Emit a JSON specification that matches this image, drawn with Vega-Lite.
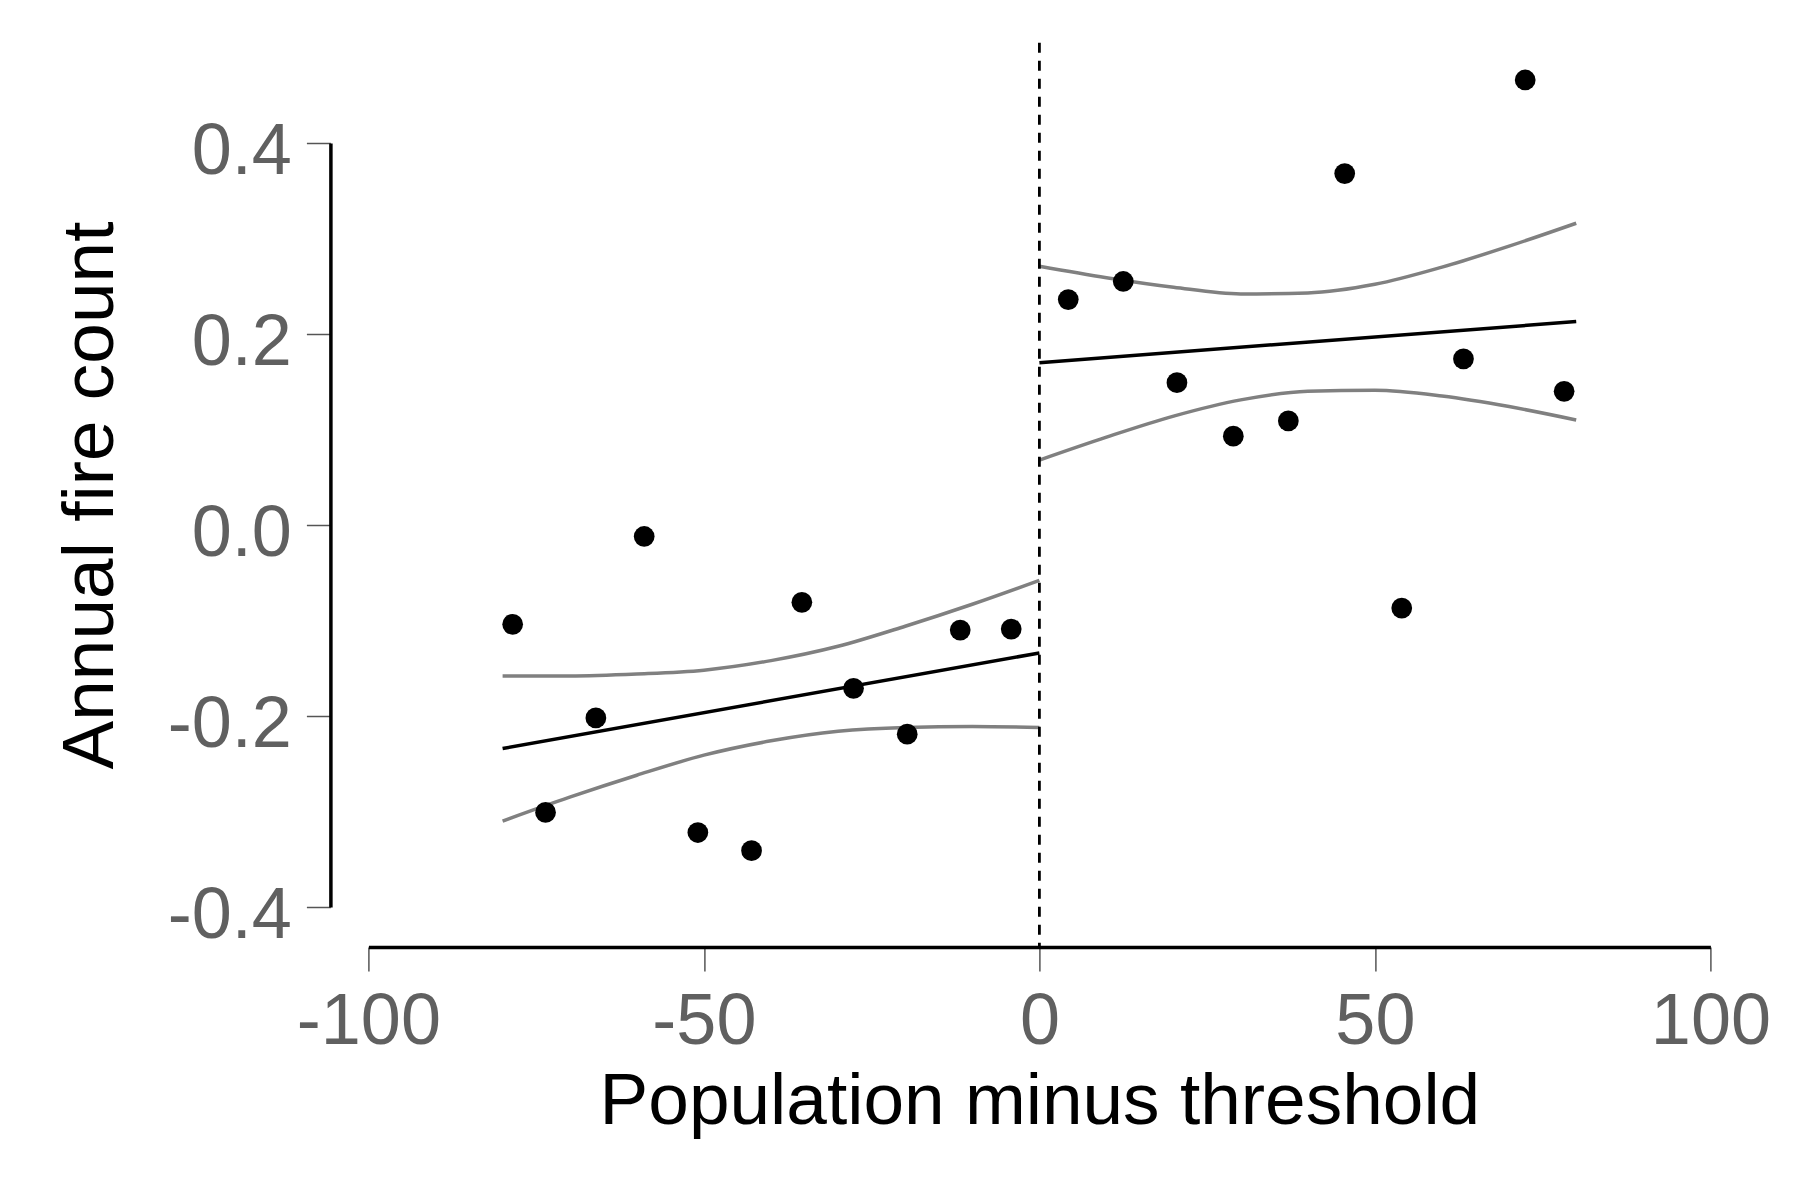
{
  "$schema": "https://vega.github.io/schema/vega-lite/v6.json",
  "width": 1342,
  "height": 764,
  "autosize": {"type": "none"},
  "padding": {"left": 368.4, "top": 143, "right": 83.6, "bottom": 289},
  "background": "white",
  "config": {
    "view": {"stroke": null},
    "font": "Liberation Sans"
  },
  "datasets": {
    "points": [
      {"x": -78.5, "y": -0.104}, {"x": -73.6, "y": -0.301}, {"x": -66.1, "y": -0.202},
      {"x": -58.9, "y": -0.012}, {"x": -50.9, "y": -0.322}, {"x": -42.9, "y": -0.341},
      {"x": -35.4, "y": -0.081}, {"x": -27.7, "y": -0.171}, {"x": -19.7, "y": -0.219},
      {"x": -11.8, "y": -0.110}, {"x": -4.2, "y": -0.109},
      {"x": 4.3, "y": 0.236}, {"x": 12.5, "y": 0.255}, {"x": 20.5, "y": 0.149},
      {"x": 28.9, "y": 0.093}, {"x": 37.1, "y": 0.109}, {"x": 45.5, "y": 0.368},
      {"x": 54.0, "y": -0.087}, {"x": 63.2, "y": 0.174}, {"x": 72.4, "y": 0.466},
      {"x": 78.2, "y": 0.140}
    ],
    "fit": [
      {"g": "L", "x": -80, "y": -0.234}, {"g": "L", "x": 0, "y": -0.134},
      {"g": "R", "x": 0, "y": 0.170}, {"g": "R", "x": 80, "y": 0.213}
    ],
    "band": [
      {"g": "Llo", "x": -80, "y": -0.310}, {"g": "Llo", "x": -70, "y": -0.285}, {"g": "Llo", "x": -60, "y": -0.262},
      {"g": "Llo", "x": -50, "y": -0.241}, {"g": "Llo", "x": -40, "y": -0.226}, {"g": "Llo", "x": -30, "y": -0.216},
      {"g": "Llo", "x": -20, "y": -0.212}, {"g": "Llo", "x": -10, "y": -0.211}, {"g": "Llo", "x": 0, "y": -0.212},
      {"g": "Lhi", "x": -80, "y": -0.158}, {"g": "Lhi", "x": -70, "y": -0.158}, {"g": "Lhi", "x": -60, "y": -0.156},
      {"g": "Lhi", "x": -50, "y": -0.152}, {"g": "Lhi", "x": -40, "y": -0.142}, {"g": "Lhi", "x": -30, "y": -0.127},
      {"g": "Lhi", "x": -20, "y": -0.106}, {"g": "Lhi", "x": -10, "y": -0.083}, {"g": "Lhi", "x": 0, "y": -0.058},
      {"g": "Rlo", "x": 0, "y": 0.068}, {"g": "Rlo", "x": 10, "y": 0.092}, {"g": "Rlo", "x": 20, "y": 0.114},
      {"g": "Rlo", "x": 30, "y": 0.131}, {"g": "Rlo", "x": 40, "y": 0.140}, {"g": "Rlo", "x": 50, "y": 0.141},
      {"g": "Rlo", "x": 60, "y": 0.135}, {"g": "Rlo", "x": 70, "y": 0.124}, {"g": "Rlo", "x": 80, "y": 0.110},
      {"g": "Rhi", "x": 0, "y": 0.271}, {"g": "Rhi", "x": 10, "y": 0.259}, {"g": "Rhi", "x": 20, "y": 0.249},
      {"g": "Rhi", "x": 30, "y": 0.242}, {"g": "Rhi", "x": 40, "y": 0.243}, {"g": "Rhi", "x": 50, "y": 0.252},
      {"g": "Rhi", "x": 60, "y": 0.270}, {"g": "Rhi", "x": 70, "y": 0.292}, {"g": "Rhi", "x": 80, "y": 0.316}
    ],
    "vline": [{"x": 0, "y": 0.505, "y2": -0.442}]
  },
  "encoding": {
    "x": {
      "field": "x", "type": "quantitative",
      "scale": {"domain": [-100, 100], "nice": false, "zero": false},
      "axis": {
        "values": [-100, -50, 0, 50, 100],
        "labelExpr": "replace(format(datum.value, 'd'), '\u2212', '-')",
        "offset": 40, "grid": false,
        "domainColor": "black", "domainWidth": 3.5,
        "tickColor": "#555555", "tickWidth": 1.5, "tickSize": 24,
        "labelFont": "Liberation Sans", "labelFontSize": 72, "labelColor": "#606060",
        "labelPadding": 15, "labelFlush": false, "labelOverlap": false,
        "title": "Population minus threshold",
        "titleFont": "Liberation Sans", "titleFontSize": 73, "titleFontWeight": "normal",
        "titleColor": "black", "titleBaseline": "alphabetic", "titleY": 176
      }
    },
    "y": {
      "field": "y", "type": "quantitative",
      "scale": {"domain": [-0.4, 0.4], "nice": false, "zero": false},
      "axis": {
        "values": [-0.4, -0.2, 0, 0.2, 0.4],
        "labelExpr": "replace(format(datum.value, '.1f'), '\u2212', '-')",
        "offset": 38, "grid": false,
        "domainColor": "black", "domainWidth": 3.5,
        "tickColor": "#555555", "tickWidth": 1.5, "tickSize": 24,
        "labelFont": "Liberation Sans", "labelFontSize": 72, "labelColor": "#606060",
        "labelPadding": 15, "labelOffset": 8, "labelFlush": false, "labelOverlap": false,
        "title": "Annual fire count",
        "titleFont": "Liberation Sans", "titleFontSize": 73, "titleFontWeight": "normal",
        "titleColor": "black", "titleAngle": -90, "titleBaseline": "alphabetic",
        "titleAlign": "center", "titleX": -218, "titleY": 352
      }
    }
  },
  "layer": [
    {
      "data": {"name": "band"},
      "mark": {"type": "line", "color": "#808080", "strokeWidth": 3.5, "interpolate": "monotone"},
      "encoding": {"detail": {"field": "g", "type": "nominal"}}
    },
    {
      "data": {"name": "fit"},
      "mark": {"type": "line", "color": "black", "strokeWidth": 3.5},
      "encoding": {"detail": {"field": "g", "type": "nominal"}}
    },
    {
      "data": {"name": "vline"},
      "mark": {"type": "rule", "color": "black", "strokeWidth": 2.8, "strokeDash": [10, 8]},
      "encoding": {"y2": {"field": "y2"}}
    },
    {
      "data": {"name": "points"},
      "mark": {"type": "circle", "color": "black", "opacity": 1, "size": 430}
    }
  ]
}
